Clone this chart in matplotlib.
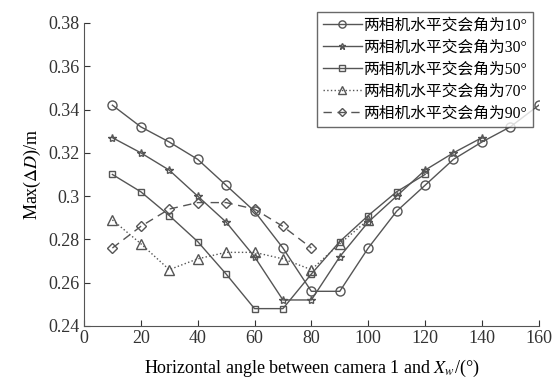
import numpy as np
import matplotlib.pyplot as plt

plt.rcParams['font.family'] = ['Liberation Serif', 'Noto Sans CJK SC', 'DejaVu Sans']
plt.rcParams['mathtext.fontset'] = 'stix'

x10 = [10, 20, 30, 40, 50, 60, 70, 80, 90, 100, 110, 120, 130, 140, 150, 160]
y10 = [0.342, 0.332, 0.325, 0.317, 0.305, 0.293, 0.276, 0.256, 0.256, 0.276, 0.293, 0.305, 0.317, 0.325, 0.332, 0.342]
x30 = [10, 20, 30, 40, 50, 60, 70, 80, 90, 100, 110, 120, 130, 140]
y30 = [0.327, 0.320, 0.312, 0.300, 0.288, 0.272, 0.252, 0.252, 0.272, 0.288, 0.300, 0.312, 0.320, 0.327]
x50 = [10, 20, 30, 40, 50, 60, 70, 80, 90, 100, 110, 120]
y50 = [0.310, 0.302, 0.291, 0.279, 0.264, 0.248, 0.248, 0.264, 0.279, 0.291, 0.302, 0.310]
x70 = [10, 20, 30, 40, 50, 60, 70, 80, 90, 100]
y70 = [0.289, 0.278, 0.266, 0.271, 0.274, 0.274, 0.271, 0.266, 0.278, 0.289]
x90 = [10, 20, 30, 40, 50, 60, 70, 80]
y90 = [0.276, 0.286, 0.294, 0.297, 0.297, 0.294, 0.286, 0.276]

labels = ['两相机水平交会角为10°', '两相机水平交会角为30°', '两相机水平交会角为50°',
          '两相机水平交会角为70°', '两相机水平交会角为90°']

fig = plt.figure(figsize=(5.56, 3.83), dpi=100)
ax = fig.add_axes([0.151, 0.149, 0.818, 0.791])

c = '#555555'
ax.plot(x10, y10, c=c, lw=1, marker='o', ms=6.5, mfc='none', mec=c, label=labels[0])
ax.plot(x30, y30, c=c, lw=1, marker='*', ms=6, mfc='none', mec=c, label=labels[1])
ax.plot(x50, y50, c=c, lw=1, marker='s', ms=5, mfc='none', mec=c, label=labels[2])
ax.plot(x70, y70, c=c, lw=1, ls=':', marker='^', ms=6.5, mfc='none', mec=c, label=labels[3])
ax.plot(x90, y90, c=c, lw=1, ls=(0, (6, 4)), marker='D', ms=5, mfc='none', mec=c, label=labels[4])

ax.set_xlim(0, 160)
ax.set_ylim(0.24, 0.38)
ax.set_xticks(np.arange(0, 161, 20))
ax.set_yticks([0.24, 0.26, 0.28, 0.3, 0.32, 0.34, 0.36, 0.38])
ax.set_yticklabels(['0.24', '0.26', '0.28', '0.3', '0.32', '0.34', '0.36', '0.38'])
ax.tick_params(direction='in', labelsize=13, colors='#333333', length=4, pad=3)
for s in ['top', 'right']:
    ax.spines[s].set_visible(False)
for s in ['left', 'bottom']:
    ax.spines[s].set_color('#555555')

ax.set_xlabel('Horizontal angle between camera 1 and $X_w$/(°)', fontsize=13, labelpad=8)
ax.set_ylabel('Max($\\Delta D$)/m', fontsize=13, labelpad=4)

leg = ax.legend(loc='upper right', bbox_to_anchor=(0.987, 1.036), fontsize=11.3, frameon=True,
                fancybox=False, edgecolor='#444444', handlelength=2.5, handletextpad=0.1,
                borderpad=0.35, labelspacing=0.38, borderaxespad=0, markerscale=0.8)
leg.get_frame().set_linewidth(1)

fig.savefig('out.png', dpi=100)
